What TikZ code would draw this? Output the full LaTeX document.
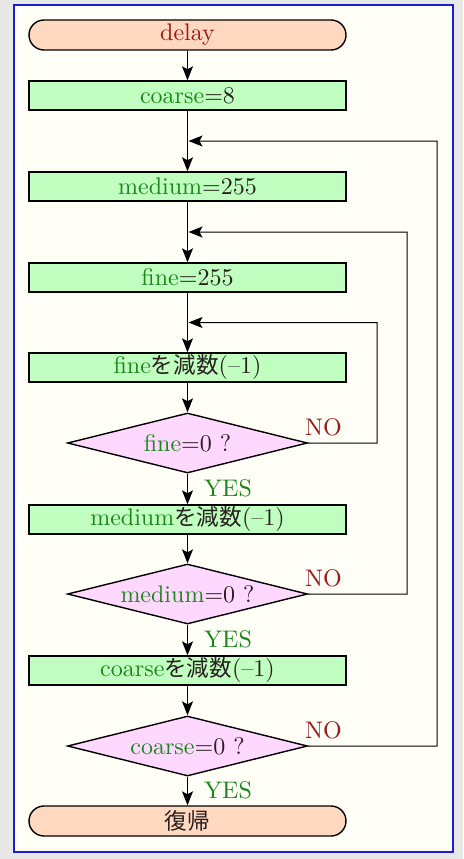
\documentclass[tikz,border=0pt]{standalone}
\usepackage{fontspec}
\setmainfont{lmroman10-regular.otf}
\newfontfamily\jp{Noto Sans CJK JP}[Scale=0.94]
\usetikzlibrary{shapes.geometric,arrows.meta,calc}

\definecolor{pagegray}{HTML}{E8E8E8}
\definecolor{panelfill}{HTML}{FFFFF7}
\definecolor{panelblue}{HTML}{1C1CD0}
\definecolor{termfill}{HTML}{FFD8C0}
\definecolor{procfill}{HTML}{C0FFC0}
\definecolor{decfill}{HTML}{FFD8FF}
\definecolor{vargreen}{HTML}{1A861A}
\definecolor{darkred}{HTML}{9A1818}
\definecolor{ink}{HTML}{281F1F}

\tikzset{
  flowfont/.style={font=\fontsize{24}{28}\selectfont, text=ink},
  term/.style={flowfont, rectangle, rounded corners=15pt, draw, line width=1.4pt,
    fill=termfill, minimum width=317pt, minimum height=30pt, inner sep=0pt},
  proc/.style={flowfont, rectangle, draw, line width=1.4pt,
    fill=procfill, minimum width=317pt, minimum height=29pt, inner sep=0pt},
  dec/.style={flowfont, diamond, aspect=4, draw, line width=1.4pt,
    fill=decfill, minimum width=240pt, minimum height=60pt, inner sep=0pt},
  flow/.style={draw, line width=1.2pt, -{Stealth[length=14pt,width=11pt,inset=3pt]}},
  back/.style={draw, line width=1pt, -{Stealth[length=14pt,width=11pt,inset=3pt]}},
  nolabel/.style={flowfont, text=darkred, anchor=base west, inner sep=0pt},
  yeslabel/.style={flowfont, text=vargreen, anchor=base west, inner sep=0pt},
}
\newcommand{\var}[1]{\textcolor{vargreen}{#1}}
\newcommand{\dec}{{\jp を減数}(--1)}

\begin{document}
\begin{tikzpicture}[x=1pt,y=-1pt]
  \useasboundingbox (0,0) rectangle (463,859);
  \fill[pagegray] (0,0) rectangle (463,859);
  \draw[panelblue, line width=1.5pt, fill=panelfill] (14,5) rectangle (453,852);

  % flow nodes
  \node[term] (start) at (187.5,35)  {\textcolor{darkred}{delay}};
  \node[proc] (coarse) at (187.5,95.5) {\var{coarse}=8};
  \node[proc] (medium) at (187.5,186.5) {\var{medium}=255};
  \node[proc] (fine)   at (187.5,277.5) {\var{fine}=255};
  \node[proc] (decf)   at (187.5,367.5) {\var{fine}\dec};
  \node[dec]  (qf)     at (187.5,443)   {\makebox[0pt]{\var{fine}=0 ?}};
  \node[proc] (decm)   at (187.5,519.5) {\var{medium}\dec};
  \node[dec]  (qm)     at (187.5,594)   {\makebox[0pt]{\var{medium}=0 ?}};
  \node[proc] (decc)   at (187.5,670.5) {\var{coarse}\dec};
  \node[dec]  (qc)     at (187.5,746)   {\makebox[0pt]{\var{coarse}=0 ?}};
  \node[term] (ret)    at (187.5,821)   {{\jp 復帰}};

  % junction points on the main line
  \coordinate (jc) at ($(coarse.south)!0.5!(medium.north)$);
  \coordinate (jm) at ($(medium.south)!0.5!(fine.north)$);
  \coordinate (jf) at ($(fine.south)!0.5!(decf.north)$);

  % corners of the loop-back lines
  \coordinate (cf) at (377,322.5);
  \coordinate (cm) at (407,232);
  \coordinate (cc) at (437,141);

  % main flow
  \draw[flow] (start) -- (coarse);
  \draw[flow] (coarse) -- (medium);
  \draw[flow] (medium) -- (fine);
  \draw[flow] (fine) -- (decf);
  \draw[flow] (decf) -- (qf);
  \draw[flow] (qf) -- (decm);
  \draw[flow] (decm) -- (qm);
  \draw[flow] (qm) -- (decc);
  \draw[flow] (decc) -- (qc);
  \draw[flow] (qc) -- (ret);

  % loop-back lines
  \draw[back] (qf.east) -| (cf) -- ($(jf)+(1,0)$);
  \draw[back] (qm.east) -| (cm) -- ($(jm)+(1,0)$);
  \draw[back] (qc.east) -| (cc) -- ($(jc)+(1,0)$);

  % branch labels
  \node[nolabel] (nof) at (305,435) {NO};
  \node[nolabel] (nom) at (305,586) {NO};
  \node[nolabel] (noc) at (305,738) {NO};
  \node[yeslabel] (yesf) at (204,496) {YES};
  \node[yeslabel] (yesm) at (204,647) {YES};
  \node[yeslabel] (yesc) at (204,798) {YES};
\end{tikzpicture}
\end{document}
